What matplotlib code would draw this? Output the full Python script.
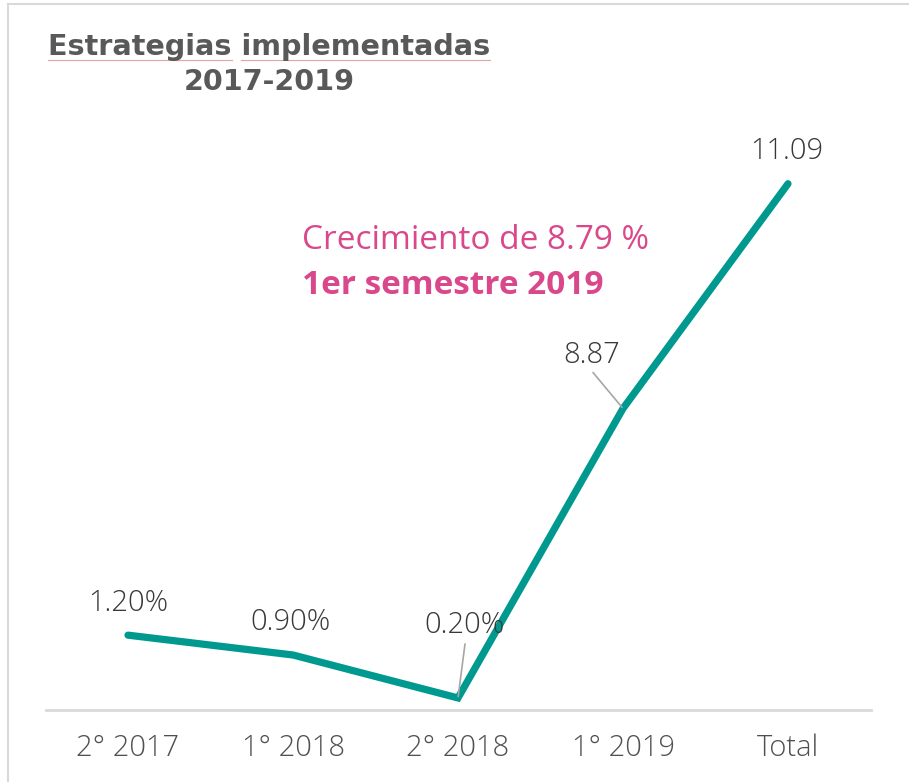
import matplotlib
matplotlib.use("Agg")
import matplotlib.pyplot as plt
from matplotlib.lines import Line2D

categories = ["2° 2017", "1° 2018", "2° 2018", "1° 2019", "Total"]
# plotted heights
values = [1.53, 1.11, 0.20, 6.33, 11.09]
labels = ["1.20%", "0.90%", "0.20%", "8.87", "11.09"]

title_l1 = "Estrategias implementadas"
title_l2 = "2017-2019"
note_l1 = "Crecimiento de 8.79 %"
note_l2 = "1er semestre 2019"

W, H = 909, 782
fig = plt.figure(figsize=(W / 100, H / 100), dpi=100)
fig.patch.set_facecolor("white")

def fx(px):
    return px / W

def fy(py):
    return 1 - py / H

ax = fig.add_axes([fx(45.5), fy(710), fx(870.5) - fx(45.5), fy(120) - fy(710)])
ax.set_xlim(-0.5, 4.5)
ax.set_ylim(-0.055, 12.44)
x = list(range(len(categories)))
teal = "#00998F"
ax.plot(x, values, color=teal, lw=5.2, solid_joinstyle="miter", solid_capstyle="round", zorder=3)

fam = ["Open Sans", "DejaVu Sans"]
for s in ["top", "right", "left"]:
    ax.spines[s].set_visible(False)
ax.spines["bottom"].set_color("#D9D9D9")
ax.spines["bottom"].set_linewidth(2)
ax.set_yticks([])
ax.set_xticks(x)
ax.set_xticklabels(categories, fontsize=21, color="#505050", family=fam, fontweight="light")
ax.tick_params(axis="x", length=0, pad=17)

lab_color = "#383838"
# label offsets in pixels (dx, dy) from point to label centre
offsets = [(0, 32), (-2, 33), (6, 73), (-31, 53), (-1, 32)]
for xi, v, lab, (dx, dy) in zip(x, values, labels, offsets):
    ax.annotate(lab, (xi, v), xytext=(dx * 0.72, dy * 0.72), textcoords="offset points",
                ha="center", va="center", fontsize=21, color=lab_color,
                family=fam, fontweight="light")

# leader lines
ax.annotate("", (2, values[2]), xytext=(7 * 0.72, 54 * 0.72), textcoords="offset points",
            arrowprops=dict(arrowstyle="-", color="#A6A6A6", lw=1.2, shrinkA=0, shrinkB=1))
ax.annotate("", (3, values[3]), xytext=(-30 * 0.72, 36 * 0.72), textcoords="offset points",
            arrowprops=dict(arrowstyle="-", color="#A6A6A6", lw=1.2, shrinkA=0, shrinkB=1))

pink = "#D9488A"
fig.text(fx(302), fy(241), note_l1, fontsize=24, color=pink, ha="left", va="center",
         family=fam)
fig.text(fx(302), fy(286), note_l2, fontsize=24, color=pink, ha="left", va="center",
         fontweight="bold", family=fam)

tcol = "#595959"
fig.text(fx(269), fy(47), title_l1, fontsize=20.6, color=tcol, ha="center", va="center",
         fontweight="bold", family=["DejaVu Sans"])
fig.text(fx(269), fy(82), title_l2, fontsize=20.6, color=tcol, ha="center", va="center",
         fontweight="bold", family=["DejaVu Sans"])
# spell-check style underlines
fig.add_artist(Line2D([fx(48), fx(232)], [fy(60), fy(60)], color="#E6A3A3", lw=0.8))
fig.add_artist(Line2D([fx(241), fx(490)], [fy(60), fy(60)], color="#E6A3A3", lw=0.8))

# frame
fig.add_artist(Line2D([fx(8), fx(908)], [fy(4), fy(4)], color="#D9D9D9", lw=1.5))
fig.add_artist(Line2D([fx(8), fx(8)], [fy(4), fy(782)], color="#D9D9D9", lw=1.5))

fig.savefig("out.png", dpi=100, facecolor="white")
